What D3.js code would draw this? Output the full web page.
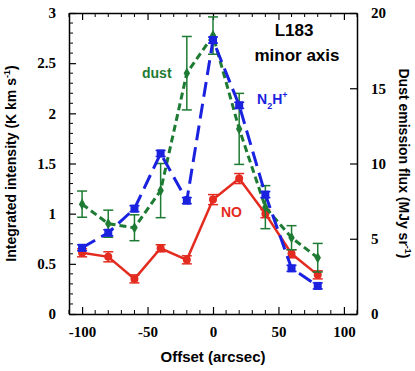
<!DOCTYPE html>
<html>
<head>
<meta charset="utf-8">
<script src="https://cdn.jsdelivr.net/npm/d3@7"></script>
<style>
  body { margin: 0; background: #fff; }
  svg { display: block; }
</style>
</head>
<body>
<div class="chart"></div>
<script>
const svgWidth = 415;
const svgHeight = 371;

// offsets (arcsec)
const offsets = [-100, -80, -60, -40, -20, 0, 20, 40, 60, 80];
// NO integrated intensity (K km/s)
const noVals = [0.61, 0.57, 0.35, 0.655, 0.54, 1.14, 1.35, 1.0, 0.6, 0.39];
const noErr = [0.04, 0.05, 0.04, 0.035, 0.04, 0.05, 0.05, 0.04, 0.04, 0.04];
// N2H+ integrated intensity (K km/s)
const n2hVals = [0.66, 0.81, 1.05, 1.6, 1.13, 2.73, 2.08, 1.19, 0.455, 0.28];
const n2hErr = [0.03, 0.03, 0.03, 0.03, 0.03, 0.03, 0.03, 0.03, 0.03, 0.03];
// dust emission flux (MJy/sr), right axis
const dustVals = [7.3, 6.0, 5.73, 8.2, 16.0, 18.5, 12.3, 7.1, 5.07, 3.74];
const dustErr = [0.87, 0.9, 0.86, 1.8, 2.44, 1.24, 2.36, 1.43, 0.8, 0.95];

const xTicks = [-100, -50, 0, 50, 100];
const yTicks = [0, 0.5, 1, 1.5, 2, 2.5, 3];
const y2Ticks = [0, 5, 10, 15, 20];

const margin = {left: 69, right: 58, top: 13, bottom: 57};
const x0 = margin.left, x1 = svgWidth - margin.right;
const y0 = margin.top, y1 = svgHeight - margin.bottom;

const svg = d3.select(".chart")
    .append("svg")
    .attr("width", svgWidth)
    .attr("height", svgHeight);

const x = d3.scaleLinear().domain([-110, 110]).range([x0, x1]);
const y = d3.scaleLinear().domain([0, 3]).range([y1, y0]);
const y2 = d3.scaleLinear().domain([0, 20]).range([y1, y0]);

const sans = "'Liberation Sans', Arial, sans-serif";
const serif = "'Times New Roman', Times, serif";

// axes (ticks pointing inward)
function styleAxis(g) {
    g.attr("font-family", serif).attr("font-size", 15).attr("font-weight", "bold");
    g.select(".domain").attr("stroke", "#000").attr("stroke-width", 1.5);
    g.selectAll(".tick line").attr("stroke", "#000").attr("stroke-width", 1.2);
    g.selectAll(".tick text").attr("fill", "#000");
}

// minor ticks
const xMinor = d3.range(-110, 111, 10).filter(v => v % 50 !== 0);
const yMinor = d3.range(0, 3.01, 0.1).map(v => +v.toFixed(1)).filter(v => Math.round(v * 10) % 5 !== 0);

const fmt = d => String(d);

svg.append("g").attr("transform", `translate(0,${y1})`)
    .call(d3.axisBottom(x).tickValues(xTicks).tickFormat(fmt).tickSize(-7).tickPadding(12).tickSizeOuter(0))
    .call(styleAxis);
svg.append("g").attr("transform", `translate(0,${y0})`)
    .call(d3.axisTop(x).tickValues(xTicks).tickSize(-7).tickFormat("").tickSizeOuter(0))
    .call(styleAxis);
svg.append("g").attr("transform", `translate(${x0},0)`)
    .call(d3.axisLeft(y).tickValues(yTicks).tickFormat(fmt).tickSize(-7).tickPadding(13).tickSizeOuter(0))
    .call(styleAxis);
svg.append("g").attr("transform", `translate(${x1},0)`)
    .call(d3.axisRight(y2).tickValues(y2Ticks).tickFormat(fmt).tickSize(-7).tickPadding(14).tickSizeOuter(0))
    .call(styleAxis);

const minor = svg.append("g").attr("stroke", "#000").attr("stroke-width", 1);
minor.selectAll("line.xb").data(xMinor).join("line").attr("class", "xb")
    .attr("x1", d => x(d)).attr("x2", d => x(d)).attr("y1", y1).attr("y2", y1 - 4);
minor.selectAll("line.xt").data(xMinor).join("line").attr("class", "xt")
    .attr("x1", d => x(d)).attr("x2", d => x(d)).attr("y1", y0).attr("y2", y0 + 4);
minor.selectAll("line.yl").data(yMinor).join("line").attr("class", "yl")
    .attr("x1", x0).attr("x2", x0 + 4).attr("y1", d => y(d)).attr("y2", d => y(d));

// axis titles
svg.append("text")
    .attr("transform", `translate(16,${(y0 + y1) / 2}) rotate(-90)`)
    .attr("text-anchor", "middle")
    .attr("font-family", sans).attr("font-weight", "bold").attr("font-size", 14)
    .html("Integrated intensity (K km s<tspan dy='-6' font-size='9'>-1</tspan><tspan dy='6'>)</tspan>");
svg.append("text")
    .attr("transform", `translate(399,${(y0 + y1) / 2}) rotate(90)`)
    .attr("text-anchor", "middle")
    .attr("font-family", sans).attr("font-weight", "bold").attr("font-size", 14)
    .html("Dust emission flux (MJy sr<tspan dy='-6' font-size='9'>-1</tspan><tspan dy='6'>)</tspan>");
svg.append("text")
    .attr("x", (x0 + x1) / 2).attr("y", 362)
    .attr("text-anchor", "middle")
    .attr("font-family", sans).attr("font-weight", "bold").attr("font-size", 15)
    .text("Offset (arcsec)");

// series
const series = [
    {name: "NO", vals: noVals, err: noErr, scale: y, color: "#e42b20", dash: null, width: 2.5, marker: "circle"},
    {name: "dust", vals: dustVals, err: dustErr, scale: y2, color: "#1e7b33", dash: "7,4", width: 3, marker: "diamond"},
    {name: "N2H+", vals: n2hVals, err: n2hErr, scale: y, color: "#1a22e0", dash: "15,7", width: 3, marker: "square"}
];

series.forEach(s => {
    const pts = offsets.map((o, i) => ({o: o, v: s.vals[i], e: s.err[i]}));
    const line = d3.line().x(d => x(d.o)).y(d => s.scale(d.v));
    const g = svg.append("g");
    g.append("path").datum(pts)
        .attr("d", line).attr("fill", "none")
        .attr("stroke", s.color).attr("stroke-width", s.width)
        .attr("stroke-dasharray", s.dash);
    // error bars
    const eb = g.selectAll("g.eb").data(pts).join("g")
        .attr("stroke", s.color).attr("stroke-width", 1.5);
    eb.append("line").attr("x1", d => x(d.o)).attr("x2", d => x(d.o))
        .attr("y1", d => s.scale(d.v - d.e)).attr("y2", d => s.scale(d.v + d.e));
    eb.append("line").attr("x1", d => x(d.o) - 5).attr("x2", d => x(d.o) + 5)
        .attr("y1", d => s.scale(d.v - d.e)).attr("y2", d => s.scale(d.v - d.e));
    eb.append("line").attr("x1", d => x(d.o) - 5).attr("x2", d => x(d.o) + 5)
        .attr("y1", d => s.scale(d.v + d.e)).attr("y2", d => s.scale(d.v + d.e));
    // markers
    if (s.marker === "circle") {
        g.selectAll("circle").data(pts).join("circle")
            .attr("cx", d => x(d.o)).attr("cy", d => s.scale(d.v))
            .attr("r", 4).attr("fill", s.color);
    } else if (s.marker === "square") {
        g.selectAll("rect").data(pts).join("rect")
            .attr("x", d => x(d.o) - 4).attr("y", d => s.scale(d.v) - 4)
            .attr("width", 8).attr("height", 8).attr("fill", s.color);
    } else {
        g.selectAll("path.mk").data(pts).join("path").attr("class", "mk")
            .attr("d", d3.symbol(d3.symbolDiamond, 36))
            .attr("transform", d => `translate(${x(d.o)},${s.scale(d.v)})`)
            .attr("fill", s.color);
    }
});

// labels
const lab = svg.append("g").attr("font-family", sans).attr("font-weight", "bold");
lab.append("text").attr("x", 294).attr("y", 36).attr("text-anchor", "middle")
    .attr("font-size", 17).text("L183");
lab.append("text").attr("x", 297).attr("y", 61).attr("text-anchor", "middle")
    .attr("font-size", 17).text("minor axis");
lab.append("text").attr("x", 142).attr("y", 78)
    .attr("font-size", 14).attr("fill", "#1e7b33").text("dust");
lab.append("text").attr("x", 257).attr("y", 104)
    .attr("font-size", 14).attr("fill", "#1a22e0")
    .html("N<tspan dy='5' font-size='9'>2</tspan><tspan dy='-5'>H</tspan><tspan dy='-6' font-size='9'>+</tspan>");
lab.append("text").attr("x", 221).attr("y", 217)
    .attr("font-size", 14).attr("fill", "#e42b20").text("NO");
</script>
</body>
</html>
